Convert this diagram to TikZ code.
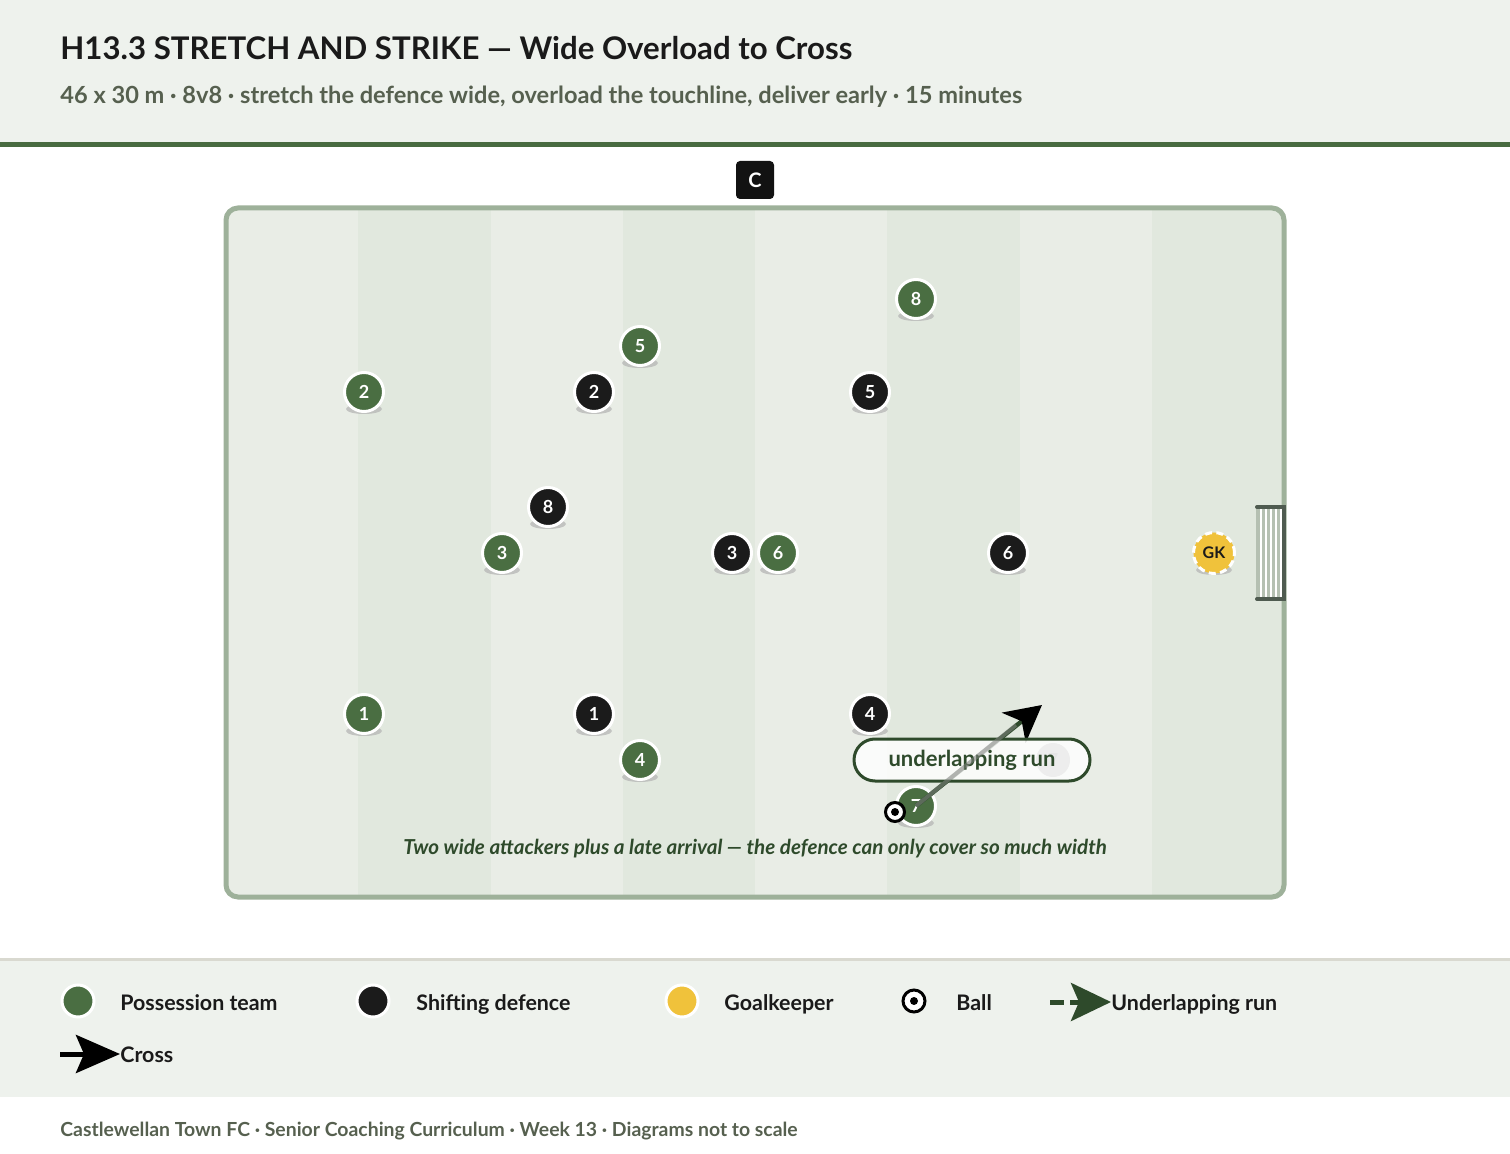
\documentclass[tikz,border=0pt]{standalone}
\usepackage{fontspec}
\setmainfont{Lato}
\usepackage{xcolor}
\usetikzlibrary{arrows.meta,positioning,calc}

\definecolor{hdrbg}{HTML}{EEF2ED}
\definecolor{accent}{HTML}{486B40}
\definecolor{stripelt}{HTML}{E9EDE6}
\definecolor{stripedk}{HTML}{E1E8DE}
\definecolor{pitchline}{HTML}{9EB19A}
\definecolor{possgreen}{HTML}{4A6E42}
\definecolor{defblack}{HTML}{1B1B1B}
\definecolor{inkdark}{HTML}{1A1A1A}
\definecolor{subgray}{HTML}{56604F}
\definecolor{rungreen}{HTML}{2E4A2B}
\definecolor{gkyellow}{HTML}{F0C23B}
\definecolor{goalframe}{HTML}{4F5B50}
\definecolor{netgray}{HTML}{B5C0B2}
\definecolor{legline}{HTML}{D9D9D0}

\begin{document}
\begin{tikzpicture}[x=0.5pt, y=-0.5pt,
      att/.style={circle, draw=white, line width=1.5pt, fill=possgreen,
                  minimum size=19.5pt, inner sep=0pt, text=white,
                  font=\bfseries\fontsize{9}{9}\selectfont},
      def/.style={att, fill=defblack},
      shad/.style={fill=black!30, opacity=0.7},
      keeper/.style={circle, draw=white, line width=1.5pt, dash pattern=on 3.5pt off 2.2pt,
                  fill=gkyellow, minimum size=20.5pt, inner sep=0pt, text=inkdark,
                  font=\bfseries\fontsize{8}{8}\selectfont},
      ghost/.style={circle, fill=black!35, minimum size=17pt, inner sep=0pt, text=black!50,
                  font=\bfseries\fontsize{9}{9}\selectfont},
      ball/.style={circle, draw=black, line width=1.5pt, fill=white,
                  minimum size=9.5pt, inner sep=0pt},
      coach/.style={rectangle, fill=black!93, rounded corners=2pt, minimum size=19pt,
                  inner sep=0pt, text=white, font=\bfseries\fontsize{10}{10}\selectfont},
      runlbl/.style={rectangle, draw=rungreen, line width=1.5pt, fill=white, fill opacity=0.8,
                  text opacity=1, rounded corners=10.5pt, minimum width=118pt, minimum height=21pt,
                  text=rungreen, font=\bfseries\fontsize{11}{11}\selectfont},
      runline/.style={draw=rungreen, line width=2.2pt,
                  -{Stealth[length=18pt, width=19pt, inset=5pt, color=black]}},
      grayover/.style={draw=black!45, line width=2pt, opacity=0.5},
      runarr/.style={draw=rungreen, line width=2.5pt, dash pattern=on 7pt off 3pt,
                  -{Stealth[length=20pt, width=19pt, inset=4pt]}},
      crossarr/.style={draw=black, line width=2.5pt,
                  -{Stealth[length=22pt, width=19pt, inset=4pt]}},
      legtxt/.style={anchor=base west, inner sep=0pt, text=inkdark,
                  font=\bfseries\fontsize{10.7}{12}\selectfont},
    ]
    \useasboundingbox (0,0) rectangle (1510,1154);

    % Header band
    \fill[hdrbg] (0,0) rectangle (1510,142);
    \fill[accent] (0,142) rectangle (1510,147);
    \node[anchor=base west, inner sep=0pt, text=inkdark, font=\bfseries\fontsize{15.6}{18}\selectfont]
      (title) at (60,60) {H13.3 STRETCH AND STRIKE — Wide Overload to Cross};
    \node[anchor=base west, inner sep=0pt, text=subgray, font=\bfseries\fontsize{11.8}{13}\selectfont]
      (subtitle) at (60,104) {46 x 30 m · 8v8 · stretch the defence wide, overload the touchline, deliver early · 15 minutes};

    % Coach
    \node[coach] (coach) at (755,180) {C};

    % Pitch stripes
    \begin{scope}
      \clip[rounded corners=6pt] (226,208) rectangle (1284,897);
      \foreach \i in {0,...,7} {
        \pgfmathsetmacro{\xa}{226+132.25*\i}
        \pgfmathsetmacro{\xb}{226+132.25*(\i+1)}
        \ifodd\i \fill[stripedk] (\xa,208) rectangle (\xb,897);
        \else \fill[stripelt] (\xa,208) rectangle (\xb,897); \fi
      }
    \end{scope}
    \draw[pitchline, line width=2.5pt, rounded corners=6pt] (226,208) rectangle (1284,897);

    % Goal
    \fill[netgray] (1256,508) rectangle (1284,598);
    \foreach \gx in {1261,1266,1271,1276,1281}
      \draw[white, line width=0.6pt] (\gx,509) -- (\gx,597);
    \draw[goalframe, line width=2pt, line cap=round] (1257,507) -- (1284,507) -- (1284,599) -- (1257,599);

    % Goalkeeper
    \fill[shad] (1214,570) ellipse (9pt and 2.5pt);
    \node[keeper] (gk) at (1214,553) {GK};

    % Possession team
    \foreach \px/\py/\n in {364/392/2, 640/346/5, 916/299/8, 502/553/3,
                            778/553/6, 364/714/1, 640/760/4, 916/806/7} {
      \fill[shad] (\px,\py+17) ellipse (9pt and 2.5pt);
      \node[att] (a\n) at (\px,\py) {\n};
    }

    % Shifting defence
    \foreach \px/\py/\n in {594/392/2, 870/392/5, 548/507/8, 732/553/3,
                            1008/553/6, 594/714/1, 870/714/4} {
      \fill[shad] (\px,\py+17) ellipse (9pt and 2.5pt);
      \node[def] (d\n) at (\px,\py) {\n};
    }

    % Underlapping run / cross
    \coordinate (runtip) at (1042,705);
    \coordinate (runbase) at (1016,725);
    \draw[runline] (a7.center) -- (runtip);
    \node[ghost] (g7) at (1053,760) {7};
    \node[runlbl] (runlabel) at (972,760) {underlapping run};
    \draw[grayover] (a7.center) -- (runbase);

    % Ball
    \node[ball] (ballp) at (895,812) {};
    \fill (ballp.center) circle (4);

    % Caption
    \node[text=rungreen, font=\bfseries\itshape\fontsize{10.3}{12}\selectfont]
      (caption) at (755,849) {Two wide attackers plus a late arrival — the defence can only cover so much width};

    % Legend band
    \fill[hdrbg] (0,960) rectangle (1510,1097);
    \fill[legline] (0,958) rectangle (1510,961);

    \node[att, minimum size=16pt] (lgatt) at (78,1001) {};
    \node[legtxt] (lgatttxt) at (120,1010) {Possession team};
    \node[def, minimum size=16pt] (lgdef) at (373,1001) {};
    \node[legtxt] (lgdeftxt) at (416,1010) {Shifting defence};
    \node[att, fill=gkyellow, minimum size=16pt] (lggk) at (682,1001) {};
    \node[legtxt] (lggktxt) at (724,1010) {Goalkeeper};
    \node[ball, minimum size=11pt] (lgball) at (914,1001) {};
    \fill (lgball.center) circle (4);
    \node[legtxt] (lgballtxt) at (956,1010) {Ball};
    \coordinate (lgrun0) at (1050,1002);
    \node[legtxt] (lgruntxt) at (1111,1010) {Underlapping run};
    \draw[runarr] (lgrun0) -- (lgruntxt.base west |- lgrun0);
    \coordinate (lgcross0) at (60,1054);
    \node[legtxt] (lgcrosstxt) at (120,1062) {Cross};
    \draw[crossarr] (lgcross0) -- (lgcrosstxt.base west |- lgcross0);

    % Footer
    \node[anchor=base west, inner sep=0pt, text=subgray, font=\bfseries\fontsize{9.7}{11}\selectfont]
      (footer) at (60,1136) {Castlewellan Town FC · Senior Coaching Curriculum · Week 13 · Diagrams not to scale};

\end{tikzpicture}
\end{document}
